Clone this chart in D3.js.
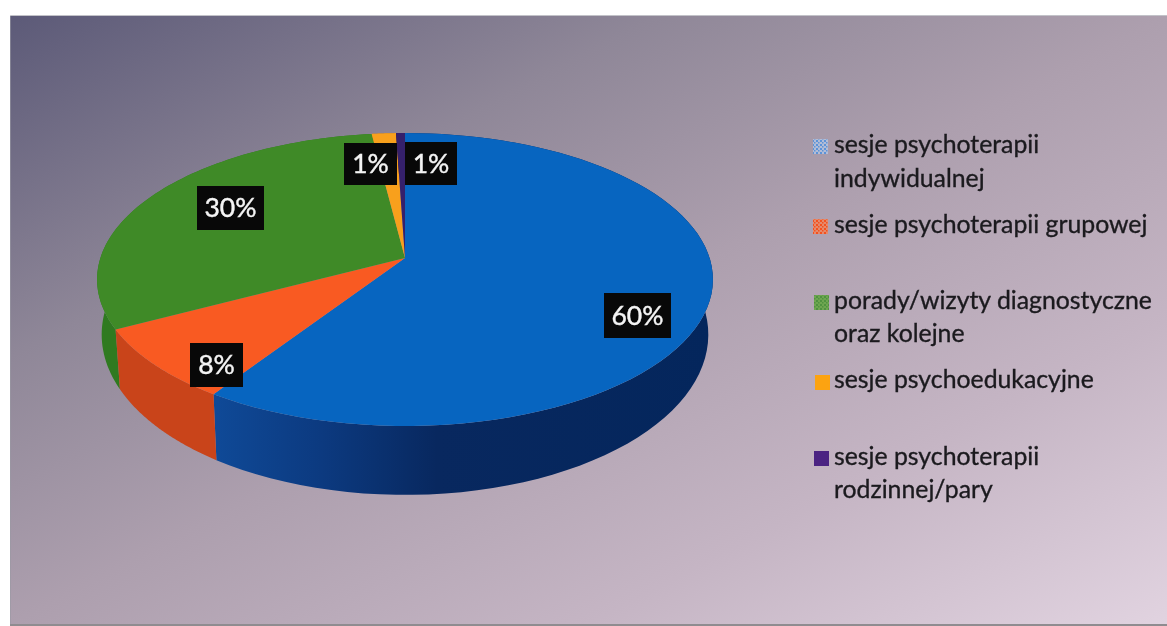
<!DOCTYPE html>
<html><head><meta charset="utf-8">
<script src="https://cdn.jsdelivr.net/npm/d3@7"></script>
<style>html,body{margin:0;padding:0;background:#fff;overflow:hidden}svg{display:block;filter:blur(.45px)}text{font-family:Lato,"Open Sans",sans-serif}</style>
</head><body><svg id="c" width="1167" height="626"></svg>
<script>
const categories=["sesje psychoterapii indywidualnej","sesje psychoterapii grupowej","porady/wizyty diagnostyczne oraz kolejne","sesje psychoedukacyjne","sesje psychoterapii rodzinnej/pary"];
const values=[59.3,8.0,30.7,1.46,0.54];
const percentLabels=["60%","8%","30%","1%","1%"];
const topColors=["#0765c0","#f95a22","#3f8a27","#f8a01c","#35206b"];
const wallColors=["#0a2f6c","#c9441a","#2f7a20","#c47d14","#241549"];
const legendLines=[["sesje psychoterapii","indywidualnej"],["sesje psychoterapii grupowej"],["porady/wizyty diagnostyczne","oraz kolejne"],["sesje psychoedukacyjne"],["sesje psychoterapii","rodzinnej/pary"]];
const legendBaselines=[[153,187],[233],[309,342],[388],[465,498]];
const legendSwatches=[[813,139],[813,219],[814,295],[815,375],[814,451]];
const labelBoxes=[[604,293,67,45],[190,343,53,44],[197,186,67,44],[344,143,53,42],[405,142,52,43]];

const svg=d3.select("#c");
const defs=svg.append("defs");
const bg=defs.append("linearGradient").attr("id","bg").attr("x1",0).attr("y1",0).attr("x2",1).attr("y2",1);
[[0,"#5c5a78"],[0.28,"#8f8798"],[0.5,"#ad9fae"],[0.75,"#c5b5c4"],[1,"#e1d3e0"]].forEach(([o,c])=>bg.append("stop").attr("offset",o).attr("stop-color",c));
svg.append("rect").attr("x",10).attr("y",16).attr("width",1157).attr("height",608).attr("fill","url(#bg)");
svg.append("path").attr("d","M10.5 624V15.5H1167").attr("fill","none").attr("stroke","#9a9aa4").attr("stroke-width",1).attr("opacity",.6);
svg.append("rect").attr("x",10).attr("y",624).attr("width",1157).attr("height",2).attr("fill","#8f8c90");

// perspective projection of the pie disc
const apex=[405,258],a=304.6,b=143.3,k=0.1468;
const proj=t=>{const u=Math.sin(t),v=-Math.cos(t),w=1-k*v;return [apex[0]+a*u/w,apex[1]+b*v/w];};
const lowerApexY=311,sx=0.985,sy=1.095;
const lower=p=>[apex[0]+sx*(p[0]-apex[0]),lowerApexY+sy*(p[1]-apex[1])];
const pie=d3.pie().sort(null).value(d=>d)(values);
const line=d3.line();
const arcPts=(d,n=80)=>d3.range(n+1).map(i=>proj(d.startAngle+(d.endAngle-d.startAngle)*i/n));

const wallGrad=defs.append("linearGradient").attr("id","wall0").attr("gradientUnits","userSpaceOnUse").attr("x1",210).attr("x2",714).attr("y1",0).attr("y2",0);
[[0,"#0f4a98"],[0.22,"#0c3a80"],[0.45,"#08285f"],[1,"#04265c"]].forEach(([o,c])=>wallGrad.append("stop").attr("offset",o).attr("stop-color",c));

const order=pie.map((d,i)=>i).sort((p,q)=>Math.cos((pie[q].startAngle+pie[q].endAngle)/2)-Math.cos((pie[p].startAngle+pie[p].endAngle)/2));
svg.append("g").selectAll("path").data(order).join("path")
  .attr("d",i=>{const pts=arcPts(pie[i]);return line([...pts,...pts.slice().reverse().map(lower)])+"Z";})
  .attr("fill",i=>i===0?"url(#wall0)":wallColors[i]);
svg.append("g").selectAll("path").data(pie).join("path")
  .attr("d",d=>line([apex,...arcPts(d)])+"Z")
  .attr("fill",(d,i)=>topColors[i]);

const lab=svg.append("g").selectAll("g").data(labelBoxes).join("g");
lab.append("rect").attr("x",d=>d[0]).attr("y",d=>d[1]).attr("width",d=>d[2]).attr("height",d=>d[3]).attr("fill","#080808");
lab.append("text").attr("x",d=>d[0]+d[2]/2).attr("y",d=>d[1]+d[3]/2+9).attr("text-anchor","middle").attr("font-size",26.5).attr("fill","#f4f4f4").attr("stroke","#f4f4f4").attr("stroke-width",.4).text((d,i)=>percentLabels[i]);

// legend swatches (scanned, speckled at the first entries)
const mk=(id,base,dot)=>{const p=defs.append("pattern").attr("id",id).attr("width",4).attr("height",4).attr("patternUnits","userSpaceOnUse");
 p.append("rect").attr("width",4).attr("height",4).attr("fill",base);
 p.append("rect").attr("width",2).attr("height",2).attr("fill",dot);
 p.append("rect").attr("x",2).attr("y",2).attr("width",1.5).attr("height",1.5).attr("fill",dot);};
mk("sw0","#b3bdd6","#5c93d8");mk("sw1","#e58a6c","#f4511e");mk("sw2","#6fa650","#4f9240");
const swFill=["url(#sw0)","url(#sw1)","url(#sw2)","#fca311","#4b2382"];
svg.append("g").selectAll("rect").data(legendSwatches).join("rect").attr("x",d=>d[0]).attr("y",d=>d[1]).attr("width",15).attr("height",15).attr("fill",(d,i)=>swFill[i]);
legendLines.forEach((ls,i)=>ls.forEach((t,j)=>svg.append("text").attr("x",834).attr("y",legendBaselines[i][j]).attr("font-size",24.8).attr("fill","#1b1a1e").attr("stroke","#1b1a1e").attr("stroke-width",.35).text(t)));
</script></body></html>
